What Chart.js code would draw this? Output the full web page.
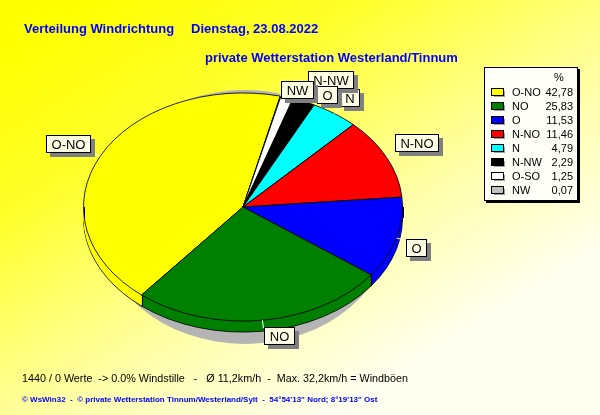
<!DOCTYPE html>
<html>
<head>
<meta charset="utf-8">
<script src="https://cdn.jsdelivr.net/npm/chart.js@4.4.0/dist/chart.umd.min.js"></script>
<style>
  html, body { margin: 0; padding: 0; background: #ffff00; }
  canvas { display: block; }
</style>
</head>
<body>
<canvas id="wind" width="600" height="415"></canvas>
<script>
// Wind direction shares of the day (percent), in legend order
const directions = ['O-NO', 'NO', 'O', 'N-NO', 'N', 'N-NW', 'O-SO', 'NW'];
const shares = [42.78, 25.83, 11.53, 11.46, 4.79, 2.29, 1.25, 0.07];
const sliceColors = ['#ffff00', '#008000', '#0000ff', '#ff0000', '#00ffff', '#000000', '#ffffff', '#c0c0c0'];
const calloutText = ['O-NO', 'NO', 'O', 'N-NO', 'N', 'N-NW', 'O', 'NW'];
// slices run clockwise: O-NO first, the remaining directions in reverse legend order
const drawOrder = [0, 7, 6, 5, 4, 3, 2, 1];

const titleLeft = 'Verteilung Windrichtung';
const titleDate = 'Dienstag, 23.08.2022';
const stationTitle = 'private Wetterstation Westerland/Tinnum';
const summaryLine = '1440 / 0 Werte  -> 0.0% Windstille   -   \u00d8 11,2km/h  -  Max. 32,2km/h = Windb\u00f6en';
const creditLine = '\u00a9 WsWin32  -  \u00a9 private Wetterstation Tinnum/Westerland/Sylt  -  54\u00b054\'13" Nord; 8\u00b019\'13" Ost';

// ---- look of the tilted pie ----
const TILT = 0.715;   // vertical squash of the pie disc
const DEPTH = 11;     // thickness of the disc rim in px
const TAU = Math.PI * 2;
const FONT = '"Liberation Sans", Arial, sans-serif';
// small shifts that keep the crowded callouts apart (legend order)
const calloutShift = [[-2, 0], [1, -1], [2, -1], [1, -2], [1, 0], [1, -5], [28, 14], [-1, 11]];

function tilt(ctx, arc) {
  ctx.translate(arc.x, arc.y);
  ctx.scale(1, TILT);
  ctx.translate(-arc.x, -arc.y);
}

// a copy of an arc element drawn with a different border width
function arcCopy(arc, borderWidth) {
  const copy = Object.create(arc);
  copy.options = Object.assign({}, arc.options, { borderWidth });
  return copy;
}

const tiltedPie = {
  id: 'tiltedPie',
  beforeDraw(chart) {
    const { ctx, width, height } = chart;
    const g = ctx.createLinearGradient(80, 0, 330, height);
    g.addColorStop(0, '#ffff00');
    g.addColorStop(0.3, '#ffff2a');
    g.addColorStop(0.7, '#ffffa8');
    g.addColorStop(1, '#fffff0');
    ctx.save();
    ctx.fillStyle = g;
    ctx.fillRect(0, 0, width, height);
    ctx.restore();
  },
  beforeDatasetsDraw(chart) {
    const ctx = chart.ctx;
    const arcs = chart.getDatasetMeta(0).data;
    const a0 = arcs[0];
    // soft grey shadow under the disc
    ctx.save();
    ctx.fillStyle = '#b4b4b4';
    ctx.beginPath();
    ctx.ellipse(a0.x + 2, a0.y + 10, a0.outerRadius - 10, a0.outerRadius * TILT + 13, 0, 0, TAU);
    ctx.fill();
    ctx.restore();
    // rim: stacked copies of the slices, the lowest one outlined
    for (let d = DEPTH; d >= 1; d--) {
      ctx.save();
      ctx.translate(0, d);
      tilt(ctx, a0);
      arcs.forEach(arc => arcCopy(arc, d === DEPTH ? arc.options.borderWidth : 0).draw(ctx));
      ctx.restore();
    }
    // top face is drawn by the library inside the squashed frame
    ctx.save();
    tilt(ctx, a0);
  },
  afterDatasetsDraw(chart) {
    const ctx = chart.ctx;
    ctx.restore();
    const arcs = chart.getDatasetMeta(0).data;
    const a0 = arcs[0];
    const r = a0.outerRadius;
    // vertical edges on the rim
    ctx.save();
    ctx.strokeStyle = '#000';
    ctx.lineWidth = 1;
    const edges = arcs.map(a => a.startAngle).concat([0, Math.PI]);
    edges.forEach(ang => {
      const s = Math.sin(ang);
      if (s < -0.001) return;
      const x = Math.round(a0.x + r * Math.cos(ang)) + 0.5;
      const y = a0.y + r * TILT * s;
      ctx.beginPath();
      ctx.moveTo(x, y);
      ctx.lineTo(x, y + DEPTH);
      ctx.stroke();
    });
    ctx.restore();

    // callouts
    ctx.save();
    ctx.font = '13px ' + FONT;
    directions.forEach((dir, i) => {
      const arc = arcs[drawOrder.indexOf(i)];
      const mid = (arc.startAngle + arc.endAngle) / 2;
      const c = Math.cos(mid), s = Math.sin(mid);
      const px = arc.x + r * c, py = arc.y + r * TILT * s;
      const qx = px + 8 * c, qy = py + 8 * s;
      ctx.strokeStyle = '#ffffff';
      ctx.lineWidth = 1;
      ctx.beginPath();
      ctx.moveTo(px, py);
      ctx.lineTo(qx, qy);
      ctx.stroke();

      const text = calloutText[i];
      const w = Math.round(ctx.measureText(text).width) + 11;
      const h = 18;
      let bx = c >= 0 ? qx : qx - w;
      let by = s >= 0 ? qy : qy - h;
      bx = Math.round(bx + calloutShift[i][0]);
      by = Math.round(by + calloutShift[i][1]);
      ctx.fillStyle = '#808080';
      ctx.fillRect(bx + 4, by + 4, w, h);
      ctx.fillStyle = '#ffffe6';
      ctx.fillRect(bx, by, w, h);
      ctx.strokeStyle = '#000';
      ctx.strokeRect(bx + 0.5, by + 0.5, w - 1, h - 1);
      ctx.fillStyle = '#000';
      ctx.textAlign = 'center';
      ctx.textBaseline = 'middle';
      ctx.fillText(text, bx + w / 2, by + h / 2 + 1);
    });
    ctx.restore();
  },
  afterDraw(chart) {
    const ctx = chart.ctx;
    ctx.save();
    // titles
    ctx.fillStyle = '#0000ff';
    ctx.textBaseline = 'middle';
    ctx.textAlign = 'left';
    ctx.font = 'bold 13px ' + FONT;
    ctx.fillText(titleLeft, 24, 29);
    ctx.fillText(titleDate, 191, 29);
    ctx.fillText(stationTitle, 205, 58);

    // legend box
    const lx = 484, ly = 67, lw = 94, lh = 134;
    ctx.fillStyle = '#000';
    ctx.fillRect(lx + 2, ly + 2, lw, lh);
    ctx.fillStyle = '#fffff8';
    ctx.fillRect(lx, ly, lw, lh);
    ctx.strokeStyle = '#000';
    ctx.lineWidth = 1;
    ctx.strokeRect(lx + 0.5, ly + 0.5, lw - 1, lh - 1);
    ctx.font = '11px ' + FONT;
    ctx.fillStyle = '#000';
    ctx.textAlign = 'center';
    ctx.fillText('%', 559, 78);
    directions.forEach((dir, i) => {
      const yc = 92 + i * 14;
      ctx.fillStyle = '#a0a0a0';
      ctx.fillRect(494, yc - 1, 11, 6);
      ctx.fillStyle = sliceColors[i];
      ctx.fillRect(492, yc - 3, 11, 6);
      ctx.strokeStyle = '#000';
      ctx.strokeRect(491.5, yc - 3.5, 12, 7);
      ctx.fillStyle = '#000';
      ctx.textAlign = 'left';
      ctx.fillText(dir, 512, yc + 1);
      ctx.textAlign = 'right';
      ctx.fillText(shares[i].toFixed(2).replace('.', ','), 573, yc + 1);
    });

    // footer lines
    ctx.textAlign = 'left';
    ctx.fillStyle = '#000';
    ctx.font = '11px ' + FONT;
    ctx.fillText(summaryLine, 22, 379, 386);
    ctx.fillStyle = '#0000ff';
    ctx.font = 'bold 8px ' + FONT;
    ctx.fillText(creditLine, 22, 400);
    ctx.restore();
  }
};

const ordered = arr => drawOrder.map(i => arr[i]);

new Chart(document.getElementById('wind'), {
  type: 'pie',
  data: {
    labels: ordered(directions),
    datasets: [{
      data: ordered(shares),
      backgroundColor: ordered(sliceColors),
      borderColor: '#000000',
      borderWidth: 1
    }]
  },
  options: {
    responsive: false,
    animation: false,
    events: [],
    rotation: 219.5,
    layout: { padding: { left: 83, right: 197, top: 47, bottom: 48 } },
    plugins: {
      legend: { display: false },
      tooltip: { enabled: false },
      title: { display: false }
    }
  },
  plugins: [tiltedPie]
});
</script>
</body>
</html>
